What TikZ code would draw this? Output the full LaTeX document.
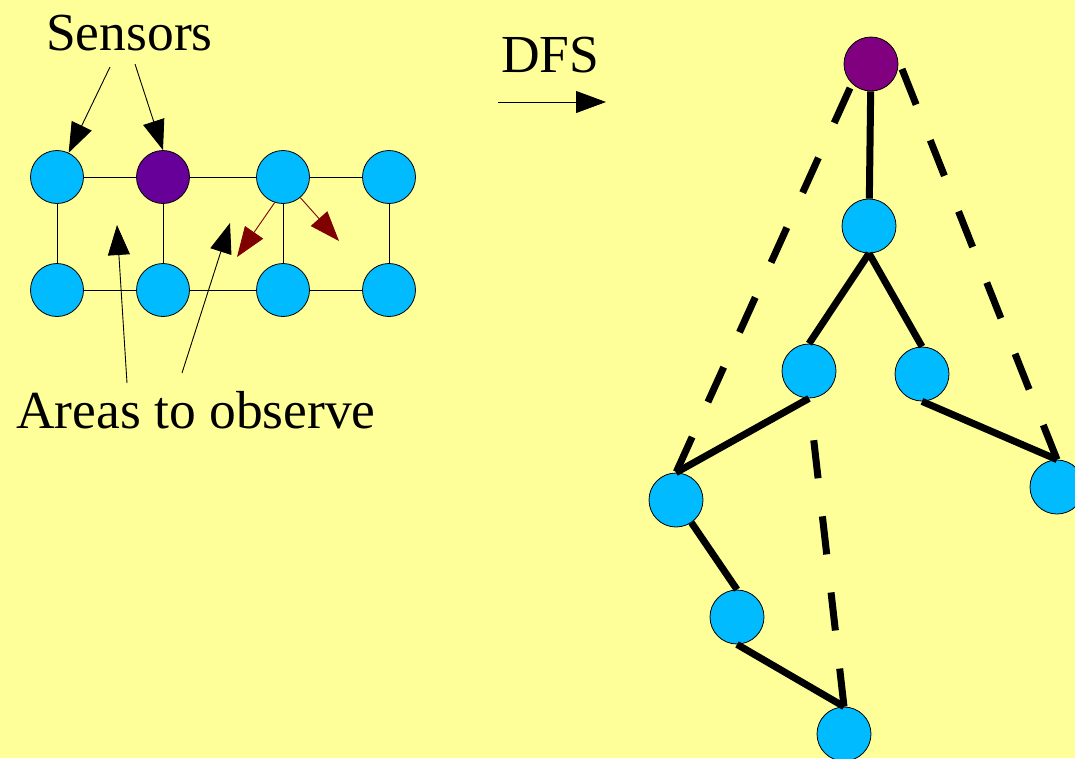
\documentclass[tikz,border=0pt]{standalone}
\usepackage{fontspec}
\setmainfont{Liberation Serif}
\usetikzlibrary{arrows.meta}
\definecolor{bg}{HTML}{FFFF99}
\definecolor{sky}{HTML}{00BBFF}
\definecolor{violetA}{HTML}{660099}
\definecolor{violetB}{HTML}{800080}
\definecolor{darkred}{HTML}{800000}
\begin{document}
\begin{tikzpicture}[x=1pt,y=-1pt,
  vertex/.style={circle,draw=black,line width=0.8pt,fill=sky,minimum size=54pt,inner sep=0pt},
  gridvertex/.style={vertex,minimum size=53pt},
  gridedge/.style={line width=1pt},
  pointer/.style={line width=0.9pt,-{Triangle[length=30pt,width=22pt]}},
  redpointer/.style={pointer,draw=darkred},
  treeedge/.style={line width=7pt},
  backedge/.style={line width=7pt,dash pattern=on 38.3pt off 38.3pt},
  caption/.style={font=\fontsize{53.5}{60}\selectfont,inner sep=0pt,anchor=base west}
]
\useasboundingbox (0,0) rectangle (1075,758);
\fill[bg] (0,0) rectangle (1075,758);

% ---- sensor grid ----
\node[gridvertex] (g11) at (57,177) {};
\node[gridvertex,fill=violetA] (g12) at (163,177) {};
\node[gridvertex] (g13) at (283,177) {};
\node[gridvertex] (g14) at (389,177) {};
\node[gridvertex] (g21) at (57,290) {};
\node[gridvertex] (g22) at (163,290) {};
\node[gridvertex] (g23) at (283,290) {};
\node[gridvertex] (g24) at (389,290) {};

\draw[gridedge] (g11) -- (g12) (g12) -- (g13) (g13) -- (g14);
\draw[gridedge] (g21) -- (g22) (g22) -- (g23) (g23) -- (g24);
\draw[gridedge] (g11) -- (g21) (g12) -- (g22) (g13) -- (g23) (g14) -- (g24);

% labels and pointers
\node[caption] (sensors) at (46,50) {Sensors};
\node[caption] (areas) at (16,428) {Areas to observe};
\node[caption] (dfs) at (501,72) {DFS};

\coordinate (s1) at (110,67);
\coordinate (s2) at (135,64);
\draw[pointer] (s1) -- (g11);
\draw[pointer] (s2) -- (g12.north);

\coordinate (a1) at (127,383);
\coordinate (a1t) at (117,225);
\coordinate (a2) at (182,373);
\coordinate (a2t) at (230,223);
\draw[pointer] (a1) -- (a1t);
\draw[pointer] (a2) -- (a2t);

\coordinate (r1t) at (237,257);
\coordinate (r2t) at (339,241);
\draw[redpointer] (g13.-108) -- (r1t);
\draw[redpointer] (g13.-50) -- (r2t);

\coordinate (d1) at (498,102);
\coordinate (d2) at (606,102);
\draw[pointer] (d1) -- (d2);

% ---- DFS tree ----
\node[vertex,fill=violetB] (root) at (871,64) {};
\node[vertex] (A) at (869,226) {};
\node[vertex] (B) at (809,371) {};
\node[vertex] (C) at (922,374) {};
\node[vertex] (D) at (676,500) {};
\node[vertex] (E) at (1057,487) {};
\node[vertex] (F) at (737,617) {};
\node[vertex] (G) at (844,734) {};

\draw[treeedge] (root) -- (A);
\draw[treeedge] (A.south) -- (B.north);
\draw[treeedge] (A.south) -- (C.north);
\draw[treeedge] (B.south) -- (D.north);
\draw[treeedge] (C.south) -- (E.north);
\draw[treeedge] (D) -- (F.north);
\draw[treeedge] (F.south) -- (G.north);

\coordinate (rootL) at (850,88);
\coordinate (rootR) at (902,69);
\draw[backedge] (rootL) -- (D.north);
\draw[backedge] (rootR) -- (E.north);
\draw[backedge,shorten >=8pt] (G.north) -- (B.south);
\end{tikzpicture}
\end{document}
